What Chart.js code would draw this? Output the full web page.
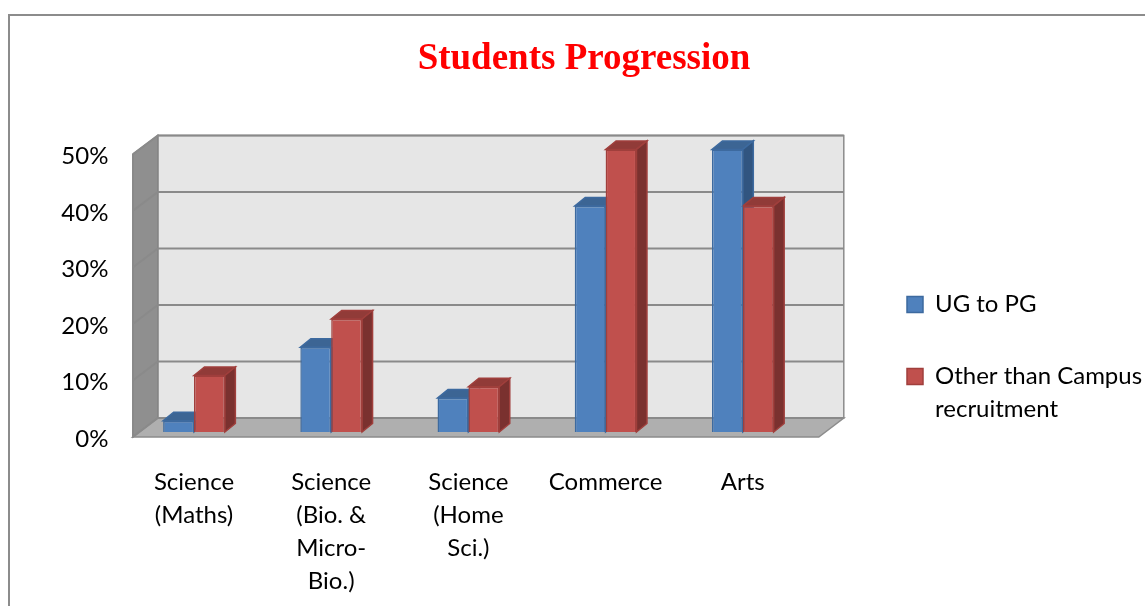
<!DOCTYPE html>
<html lang="en">
<head>
<meta charset="UTF-8" />
<title>Students Progression</title>
<script src="https://cdn.jsdelivr.net/npm/chart.js@4.4.1/dist/chart.umd.min.js"></script>
<style>
  html, body { margin: 0; padding: 0; background: #fff; overflow: hidden; }
  .frame { position: absolute; left: 8px; top: 14px; width: 1160px; height: 620px; border: 2px solid #8c8c8c; background: #fff; }
  .frame canvas { display: block; }
</style>
</head>
<body>
<div class="frame"><canvas id="chart" width="1148" height="620"></canvas></div>

<script>
  // chart data
  const categories = [
    ['Science', '(Maths)'],
    ['Science', '(Bio. &', 'Micro-', 'Bio.)'],
    ['Science', '(Home', 'Sci.)'],
    'Commerce',
    'Arts'
  ];
  const ugToPg = [2, 15, 6, 40, 50];
  const otherThanCampus = [10, 20, 8, 50, 40];
  const seriesNames = ['UG to PG', ['Other than Campus', 'recruitment']];
  const yTicks = [0, 10, 20, 30, 40, 50];

  const FONT = 'Lato';
  // faces of the 3d columns: front, top, side
  const shades = [
    { front: '#4f81bd', border: '#3d6a9f', top: '#3c6594', side: '#315580' },
    { front: '#c0504d', border: '#a03f3c', top: '#913b38', side: '#7a312f' }
  ];

  // legend text width decides how much room is left round the plot
  // (chart.js adds 10px to a vertical legend's width)
  const measure = document.createElement('canvas').getContext('2d');
  measure.font = '24px ' + FONT;
  const legendTextW = measure.measureText('Other than Campus').width;
  const side = 213 - legendTextW;

  // back wall, side wall and floor, drawn behind the columns
  const walls = {
    id: 'walls',
    beforeDatasetsDraw(chart) {
      const { ctx, chartArea: ca, scales: { y } } = chart;
      const pl = ca.left + 14, pr = ca.right + 14;
      const front = (x, v) => [x - 6.6, y.getPixelForValue(v) + 5];
      const back = (x, v) => [x + 18.4, y.getPixelForValue(v) - 14];
      const top = yTicks[yTicks.length - 1];
      const poly = (pts, fill, stroke) => {
        ctx.beginPath();
        pts.forEach((p, i) => i ? ctx.lineTo(p[0], p[1]) : ctx.moveTo(p[0], p[1]));
        ctx.closePath();
        ctx.fillStyle = fill;
        ctx.fill();
        if (stroke) { ctx.strokeStyle = stroke; ctx.lineWidth = 1.5; ctx.stroke(); }
      };
      ctx.save();
      poly([back(pl, top), back(pr, top), back(pr, 0), back(pl, 0)], '#e6e6e6', '#8c8c8c');
      poly([front(pl, top), back(pl, top), back(pl, 0), front(pl, 0)], '#8f8f8f', '#858585');
      poly([front(pl, 0), front(pr, 0), back(pr, 0), back(pl, 0)], '#afafaf', '#8c8c8c');
      ctx.strokeStyle = '#8a8a8a';
      ctx.lineWidth = 2;
      yTicks.forEach((v) => {
        const a = front(pl, v), b = back(pl, v), c = back(pr, v);
        ctx.beginPath();
        ctx.moveTo(a[0], a[1]);
        ctx.lineTo(b[0], b[1]);
        ctx.lineTo(c[0], c[1]);
        ctx.stroke();
      });

      // top and side faces of every column
      const bx = 10.5, by = -8.5;
      for (let i = 0; i < categories.length; i++) {
        chart.data.datasets.forEach((ds, d) => {
          const el = chart.getDatasetMeta(d).data[i];
          const { x, y: yt, base, width } = el.getProps(['x', 'y', 'base', 'width'], true);
          const l = x - width / 2, r = x + width / 2;
          poly([[l, yt], [r, yt], [r + bx, yt + by], [l + bx, yt + by]], shades[d].top, shades[d].border);
          poly([[r, yt], [r + bx, yt + by], [r + bx, base + by], [r, base]], shades[d].side, shades[d].border);
        });
      }
      ctx.restore();
    }
  };

  new Chart(document.getElementById('chart'), {
    type: 'bar',
    data: {
      labels: categories,
      datasets: [
        {
          label: seriesNames[0],
          data: ugToPg,
          backgroundColor: shades[0].front,
          borderColor: shades[0].border,
          borderWidth: 1.5
        },
        {
          label: seriesNames[1],
          data: otherThanCampus,
          backgroundColor: shades[1].front,
          borderColor: shades[1].border,
          borderWidth: 1.5
        }
      ]
    },
    options: {
      responsive: false,
      animation: false,
      categoryPercentage: 0.45,
      barPercentage: 1,
      layout: { padding: { left: side, right: side, top: 0, bottom: 0 } },
      plugins: {
        title: {
          display: true,
          text: 'Students Progression',
          color: '#ff0000',
          font: { family: 'Liberation Serif', size: 37, weight: 'bold' },
          padding: { top: 21, bottom: 68 }
        },
        legend: {
          position: 'right',
          align: 'start',
          maxWidth: 400,
          title: { display: true, text: '', padding: { top: 214, bottom: 0 } },
          labels: {
            color: '#000',
            font: { family: FONT, size: 24, lineHeight: 1.375 },
            boxWidth: 16,
            boxHeight: 16,
            padding: 48
          }
        },
        tooltip: { enabled: false }
      },
      scales: {
        x: {
          grid: { display: false },
          border: { display: false },
          ticks: {
            color: '#000',
            font: { family: FONT, size: 24, lineHeight: 1.375 },
            padding: 26,
            maxRotation: 0,
            autoSkip: false
          },
          afterFit(s) { s.height = 204; }
        },
        y: {
          min: 0,
          max: 50,
          grid: { display: false, drawTicks: false },
          border: { display: false },
          ticks: {
            stepSize: 10,
            color: '#000',
            font: { family: FONT, size: 24 },
            padding: 17,
            labelOffset: 7,
            callback: (v) => v + '%'
          },
          afterFit(s) { s.width = 115.4 - side; }
        },
        y2: {
          position: 'right',
          display: true,
          grid: { display: false, drawTicks: false },
          border: { display: false },
          ticks: { display: false },
          afterFit(s) { s.width = 47.6; }
        }
      }
    },
    plugins: [walls]
  });
</script>
</body>
</html>
